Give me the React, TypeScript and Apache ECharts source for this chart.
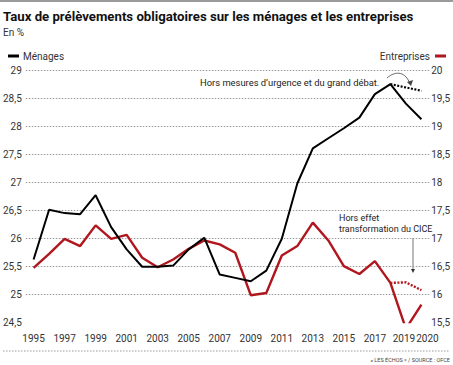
import React, { useEffect, useRef } from "react";
import * as echarts from "echarts";

const years = [
  "1995", "1996", "1997", "1998", "1999", "2000", "2001", "2002", "2003", "2004",
  "2005", "2006", "2007", "2008", "2009", "2010", "2011", "2012", "2013", "2014",
  "2015", "2016", "2017", "2018", "2019", "2020",
];

const menages = [
  25.62, 26.51, 26.45, 26.43, 26.77, 26.2, 25.8, 25.49, 25.49, 25.51,
  25.8, 26.01, 25.35, 25.29, 25.23, 25.42, 25.99, 26.98, 27.61, 27.79,
  27.97, 28.16, 28.58, 28.76, 28.41, 28.13,
];

const menagesHorsMesures = [
  null, null, null, null, null, null, null, null, null, null,
  null, null, null, null, null, null, null, null, null, null,
  null, null, null, 28.76, 28.7, 28.64,
];

const entreprises = [
  16.47, 16.72, 16.99, 16.86, 17.23, 16.99, 17.06, 16.65, 16.48, 16.62,
  16.81, 16.96, 16.89, 16.74, 15.98, 16.02, 16.69, 16.86, 17.28, 16.96,
  16.5, 16.36, 16.59, 16.2, 15.38, 15.81,
];

const entreprisesHorsCice = [
  null, null, null, null, null, null, null, null, null, null,
  null, null, null, null, null, null, null, null, null, null,
  null, null, null, 16.2, 16.21, 16.07,
];

const shownYears = ["1995", "1997", "1999", "2001", "2003", "2005", "2007", "2009", "2011", "2013", "2015", "2017", "2019", "2020"];

const FONT = "Roboto";
const RED = "#b0161d";

export default function App() {
  const ref = useRef<HTMLDivElement>(null);
  useEffect(() => {
    if (!ref.current) return;
    const chart = echarts.init(ref.current, null, { renderer: "svg" });
    const fmt = (v: number) => String(v).replace(".", ",");
    chart.setOption({
      animation: false,
      textStyle: { fontFamily: FONT },
      grid: { left: 23, right: 20, top: 70.7, bottom: 43, containLabel: false },
      legend: [
        {
          data: ["Ménages"],
          left: 3,
          top: 46,
          icon: "rect",
          itemWidth: 11,
          itemHeight: 3,
          itemGap: 4,
          textStyle: { fontSize: 10, color: "#333", fontFamily: FONT, padding: [0, 0, 0, -1] },
          selectedMode: false,
        },
        {
          data: ["Entreprises"],
          right: 2,
          top: 46,
          align: "right",
          icon: "rect",
          itemWidth: 11,
          itemHeight: 3,
          textStyle: { fontSize: 10, color: "#333", fontFamily: FONT },
          selectedMode: false,
        },
      ],
      xAxis: {
        type: "category",
        data: years,
        boundaryGap: true,
        axisLine: { show: false },
        axisTick: { show: false },
        axisLabel: {
          interval: 0,
          formatter: (v: string) => {
            if (v === "2019") return "{l|" + v + "}";
            if (v === "2020") return "{r|" + v + "}";
            return shownYears.includes(v) ? v : "";
          },
          rich: {
            l: { fontSize: 10, color: "#333", fontFamily: FONT, padding: [0, 4, 0, 0] },
            r: { fontSize: 10, color: "#333", fontFamily: FONT, padding: [0, 0, 0, 12] },
          },
          color: "#333",
          fontSize: 10,
          margin: 11,
          fontFamily: FONT,
        },
        splitLine: { show: false },
      },
      yAxis: [
        {
          type: "value",
          min: 24.5,
          max: 29,
          interval: 0.5,
          position: "left",
          axisLine: { show: false },
          axisTick: { show: false },
          axisLabel: { color: "#333", fontSize: 10, margin: 4, formatter: fmt, fontFamily: FONT },
          splitLine: { show: true, showMinLine: false, lineStyle: { type: [1.5, 1.5], color: "#9a9a9a", width: 1 } },
        },
        {
          type: "value",
          min: 15.5,
          max: 20,
          interval: 0.5,
          position: "right",
          axisLine: { show: false },
          axisTick: { show: false },
          axisLabel: { color: "#333", fontSize: 10, margin: 2, formatter: fmt, fontFamily: FONT },
          splitLine: { show: false },
        },
      ],
      series: [
        {
          name: "Ménages",
          type: "line",
          data: menages,
          yAxisIndex: 0,
          symbol: "none",
          lineStyle: { color: "#000", width: 2 },
          itemStyle: { color: "#000" },
          z: 3,
        },
        {
          name: "Ménages hors mesures",
          type: "line",
          data: menagesHorsMesures,
          yAxisIndex: 0,
          symbol: "none",
          lineStyle: { color: "#000", width: 2.2, type: [2, 1.5] },
          z: 3,
        },
        {
          name: "Entreprises",
          type: "line",
          data: entreprises,
          yAxisIndex: 1,
          symbol: "none",
          lineStyle: { color: RED, width: 2.4 },
          itemStyle: { color: RED },
          z: 2,
        },
        {
          name: "Entreprises hors CICE",
          type: "line",
          data: entreprisesHorsCice,
          yAxisIndex: 1,
          symbol: "none",
          lineStyle: { color: RED, width: 2.4, type: [2, 1.5] },
          z: 2,
        },
      ],
      graphic: [
        { type: "rect", shape: { x: 0, y: 0, width: 453, height: 2 }, style: { fill: "#9a9a9a" } },
        {
          type: "text",
          left: 3,
          top: 10,
          style: { text: "Taux de prélèvements obligatoires sur les ménages et les entreprises", fontSize: 13.2, fontWeight: "bold", fill: "#111", fontFamily: FONT },
        },
        { type: "text", left: 3, top: 27, style: { text: "En %", fontSize: 10, fill: "#333", fontFamily: FONT } },
        {
          type: "text",
          x: 200,
          y: 77.5,
          style: { text: "Hors mesures d’urgence et du grand débat.", fontSize: 9.4, fill: "#222", fontFamily: FONT },
        },
        {
          type: "bezierCurve",
          shape: { x1: 387, y1: 78, cpx1: 396, cpy1: 70, x2: 410, y2: 84, cpx2: 406, cpy2: 72 },
          style: { stroke: "#444", lineWidth: 0.8, fill: "none" },
        },
        { type: "polygon", shape: { points: [[407, 82], [413, 80], [411, 86]] }, style: { fill: "#444" } },
        {
          type: "text",
          x: 339,
          y: 212,
          style: { text: "Hors effet\ntransformation du CICE", fontSize: 9, lineHeight: 11, fill: "#222", fontFamily: FONT },
        },
        { type: "line", shape: { x1: 413, y1: 238, x2: 413, y2: 270 }, style: { stroke: "#555", lineWidth: 0.8 } },
        { type: "polygon", shape: { points: [[411, 269], [415, 269], [413, 273]] }, style: { fill: "#333" } },
        {
          type: "line",
          shape: { x1: 3, y1: 351, x2: 450, y2: 351 },
          style: { stroke: "#9a9a9a", lineWidth: 1, lineDash: [1.5, 1.5] },
        },
        {
          type: "text",
          right: 3,
          top: 357,
          style: { text: "« LES ÉCHOS » / SOURCE : OFCE", fontSize: 5.5, fill: "#444", fontFamily: FONT },
        },
      ],
    });
    return () => chart.dispose();
  }, []);
  return <div ref={ref} style={{ width: 453, height: 365, position: "absolute", left: 0, top: 0 }} />;
}
